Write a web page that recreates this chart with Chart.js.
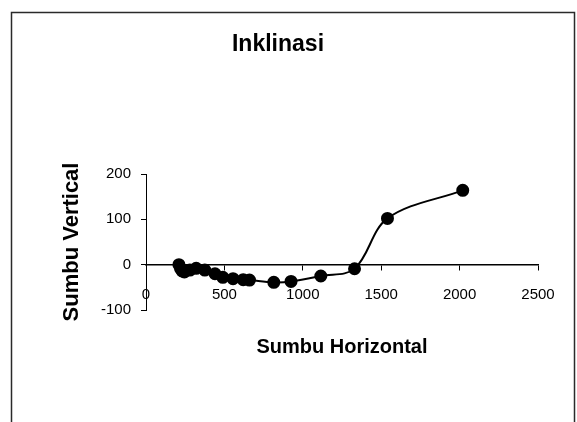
<!DOCTYPE html>
<html>
<head>
<meta charset="utf-8">
<title>Inklinasi</title>
<script src="https://cdn.jsdelivr.net/npm/chart.js@4/dist/chart.umd.min.js"></script>
<style>
  html, body { margin: 0; padding: 0; background: #ffffff; }
  #wrap { width: 577px; height: 422px; position: relative; }
</style>
</head>
<body>
<div id="wrap"><canvas id="chart" width="577" height="422"></canvas></div>
<script>
// Survey points: horizontal distance vs. vertical offset
const horizontal = [210, 220, 230, 245, 280, 320, 375, 440, 490, 555, 620, 660, 815, 925, 1115, 1330, 1540, 2020];
const vertical   = [0, -8, -14, -16, -12, -8, -12, -20, -28, -31, -33, -34, -39, -37, -25, -9, 102, 164];

const xTicks = [0, 500, 1000, 1500, 2000, 2500];
const yTicks = [-100, 0, 100, 200];

const chartTitle = 'Inklinasi';
const xTitle = 'Sumbu Horizontal';
const yTitle = 'Sumbu Vertical';

const FONT = "'Liberation Sans', Arial, sans-serif";

const points = horizontal.map((x, i) => ({ x: x, y: vertical[i] }));

// White page with the outer chart border
const framePlugin = {
  id: 'frame',
  beforeDraw(chart) {
    const ctx = chart.ctx;
    ctx.save();
    ctx.fillStyle = '#ffffff';
    ctx.fillRect(0, 0, chart.width, chart.height);
    ctx.strokeStyle = '#2a2a2a';
    ctx.lineWidth = 1.5;
    ctx.strokeRect(11.5, 12.5, 563, 440);
    ctx.restore();
  }
};

const plainNumber = v => String(v);

new Chart(document.getElementById('chart'), {
  type: 'line',
  data: {
    datasets: [{
      data: points,
      borderColor: '#000000',
      backgroundColor: '#000000',
      borderWidth: 2,
      pointRadius: 5.5,
      pointBackgroundColor: '#000000',
      pointBorderColor: '#000000',
      tension: 0.35,
      fill: false
    }]
  },
  options: {
    responsive: false,
    animation: false,
    devicePixelRatio: 1,
    layout: { padding: { left: 18, right: 39, top: 0, bottom: 112 } },
    plugins: {
      legend: { display: false },
      tooltip: { enabled: false },
      title: {
        display: true,
        text: chartTitle,
        color: '#000000',
        font: { family: FONT, size: 23, weight: 'bold' },
        padding: { top: 31, bottom: 115.4 }
      }
    },
    scales: {
      x: {
        type: 'linear',
        position: { y: 0 },
        min: xTicks[0],
        max: xTicks[xTicks.length - 1],
        afterBuildTicks(scale) { scale.ticks = xTicks.map(v => ({ value: v })); },
        ticks: {
          color: '#000000',
          font: { family: FONT, size: 15 },
          padding: 16,
          maxRotation: 0,
          autoSkip: false,
          callback: plainNumber
        },
        grid: { drawOnChartArea: false, drawTicks: true, tickLength: 5, color: '#000000', lineWidth: 1 },
        border: { display: true, color: '#000000', width: 1.5 },
        title: {
          display: true,
          text: xTitle,
          color: '#000000',
          font: { family: FONT, size: 20, weight: 'bold' },
          padding: { top: 16, bottom: 0 }
        }
      },
      y: {
        type: 'linear',
        position: 'left',
        min: yTicks[0],
        max: yTicks[yTicks.length - 1],
        afterBuildTicks(scale) { scale.ticks = yTicks.map(v => ({ value: v })); },
        afterFit(scale) { scale.width = 128; },
        ticks: {
          color: '#000000',
          font: { family: FONT, size: 15 },
          padding: 10,
          callback: plainNumber
        },
        grid: { drawOnChartArea: false, drawTicks: true, tickLength: 5, color: '#000000', lineWidth: 1 },
        border: { display: true, color: '#000000', width: 1 },
        title: {
          display: true,
          text: yTitle,
          color: '#000000',
          font: { family: FONT, size: 22, weight: 'bold' },
          padding: { top: 41, bottom: 0 }
        }
      }
    }
  },
  plugins: [framePlugin]
});
</script>
</body>
</html>
